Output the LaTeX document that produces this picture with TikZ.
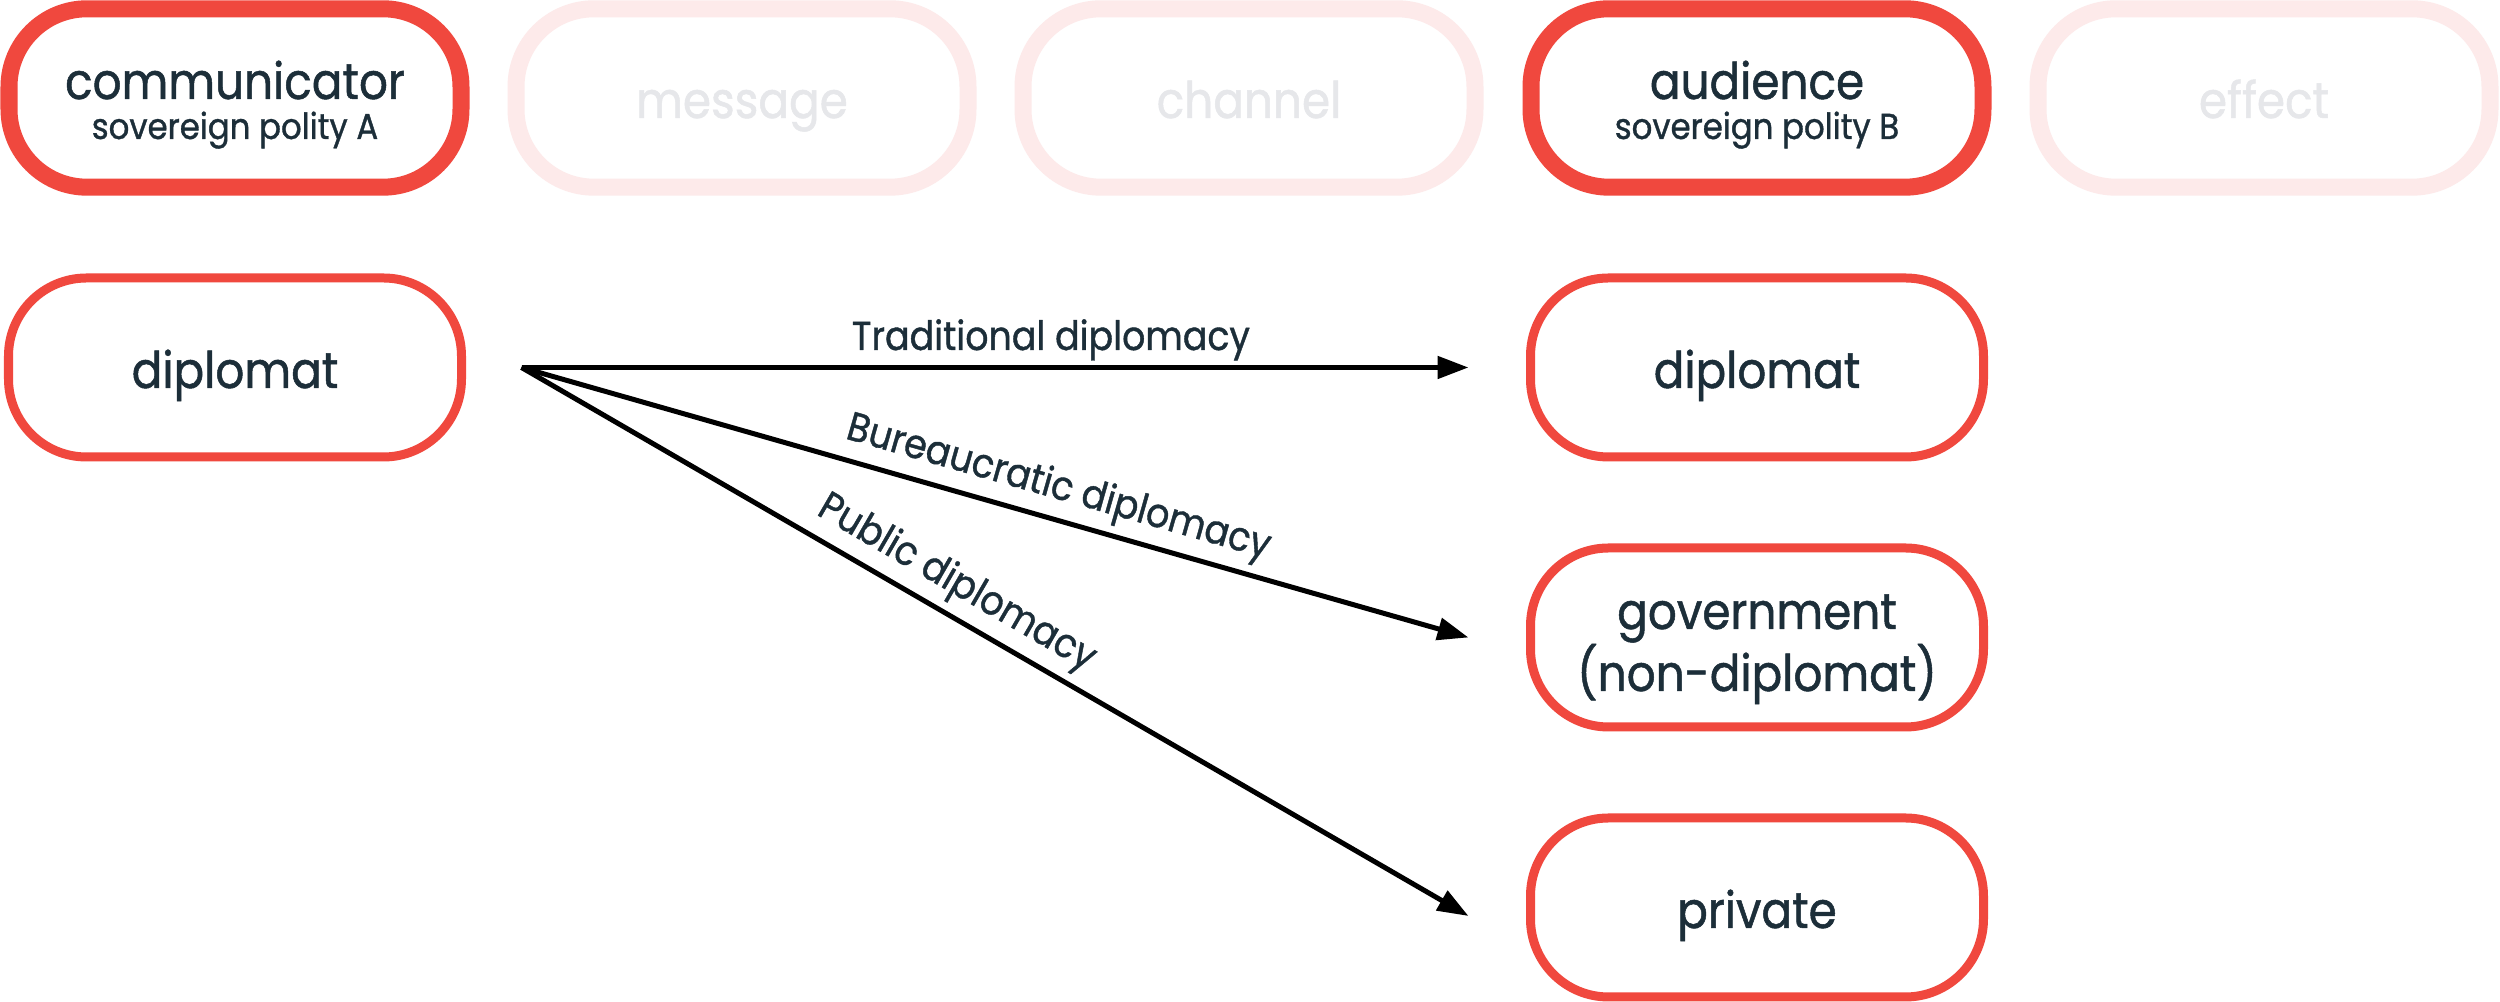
\documentclass[tikz,border=0pt]{standalone}
\usepackage{fontspec}
\setmainfont{Poppins}[FakeStretch=0.9,FakeBold=1]
\usetikzlibrary{arrows.meta}
\definecolor{cred}{HTML}{F0483E}
\definecolor{cpink}{HTML}{FDEAEA}
\definecolor{cdark}{HTML}{1C2E39}
\definecolor{cgrey}{HTML}{E6E7EA}
\begin{document}
\begin{tikzpicture}[x=0.25pt,y=-0.25pt,
  box/.style={rounded corners=19.5pt, minimum width=113.25pt, minimum height=44.75pt, outer sep=0pt, inner sep=0pt, fill=white},
  topbox/.style={box, draw=cred, line width=4.25pt, minimum width=113pt, minimum height=44.6pt},
  fadebox/.style={box, draw=cpink, line width=4.25pt, minimum width=113pt, minimum height=44.6pt},
  subbox/.style={box, draw=cred, line width=2.25pt},
  maintext/.style={font=\fontsize{12.6pt}{15pt}\selectfont, text=cdark, anchor=base, inner sep=0pt},
  fadetext/.style={maintext, text=cgrey},
  subtext/.style={font=\fontsize{9pt}{11pt}\selectfont, text=cdark, anchor=base, inner sep=0pt},
  elabel/.style={font=\fontsize{10.1pt}{12pt}\selectfont, text=cdark, sloped, text depth=0pt, inner sep=0pt},
  arrowline/.style={line width=1.25pt, -{Triangle[length=7.75pt,width=5.5pt]}}
]
\useasboundingbox[fill=white] (0,0) rectangle (2500,1002);
% top row
\node[topbox] (comm) at (235,98) {};
\node[fadebox] (msg) at (742,98) {};
\node[fadebox] (chan) at (1249,98) {};
\node[topbox] (aud) at (1757,98) {};
\node[fadebox] (eff) at (2264,98) {};
\node[maintext] (commt) at ([yshift=-0.25pt]comm.center) {communicator};
\node[subtext] (comms) at ([yshift=-10.25pt]comm.center) {sovereign polity A};
\node[fadetext] (msgt) at ([yshift=-5pt]msg.center) {message};
\node[fadetext] (chant) at ([yshift=-5pt]chan.center) {channel};
\node[maintext] (audt) at ([yshift=-0.25pt]aud.center) {audience};
\node[subtext] (auds) at ([yshift=-10.25pt]aud.center) {sovereign polity B};
\node[fadetext] (efft) at ([yshift=-5pt]eff.center) {effect};
% second row
\node[subbox] (ld) at (235,367.5) {};
\node[subbox] (r1) at (1757,367.5) {};
\node[subbox] (r2) at (1757,637.5) {};
\node[subbox] (r3) at (1757,907.5) {};
\node[maintext] (ldt) at ([yshift=-5.125pt]ld.center) {diplomat};
\node[maintext] (r1t) at ([yshift=-5.125pt]r1.center) {diplomat};
\node[maintext] (r2t) at ([yshift=2.125pt]r2.center) {government};
\node[maintext] (r2u) at ([yshift=-13.375pt]r2.center) {(non-diplomat)};
\node[maintext] (r3t) at ([yshift=-5.125pt]r3.center) {private};
% connectors
\coordinate (src) at ([xshift=15pt]ld.east);
\coordinate (e1) at ([xshift=-15.5pt]r1.west);
\coordinate (e2) at ([xshift=-15.5pt]r2.west);
\coordinate (e3) at ([xshift=-15.5pt,yshift=-2.125pt]r3.west);
\draw[arrowline] (src) -- node[elabel, pos=0.559, above=3.75pt] (l1) {Traditional diplomacy} (e1);
\draw[arrowline] (src) -- node[elabel, pos=0.558, above=4.5pt] (l2) {Bureaucratic diplomacy} (e2);
\draw[arrowline] (src) -- node[elabel, pos=0.443, above=4.5pt] (l3) {Public diplomacy} (e3);
\end{tikzpicture}
\end{document}
